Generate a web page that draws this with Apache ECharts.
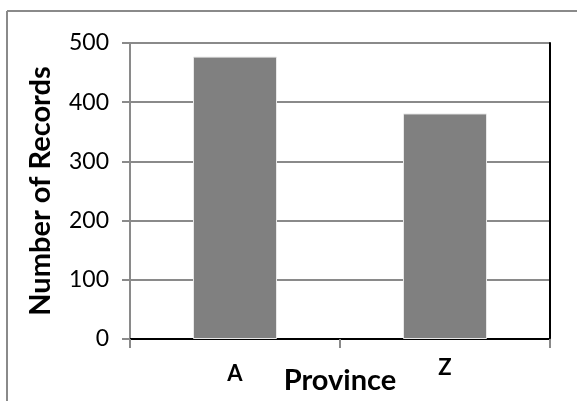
<!DOCTYPE html>
<html>
<head>
<meta charset="utf-8">
<script src="https://cdn.jsdelivr.net/npm/echarts@6/dist/echarts.min.js"></script>
<style>
  html, body { margin: 0; padding: 0; background: #fff; }
  #chart { width: 577px; height: 401px; }
</style>
</head>
<body>
<div id="chart"></div>
<script>
var provinces = ['A', 'Z'];
var records = [477, 381];
var yTicks = [0, 100, 200, 300, 400, 500];

var chart = echarts.init(document.getElementById('chart'));
var font = 'Lato';

var option = {
    animation: false,
    backgroundColor: '#fff',
    grid: { left: 130, right: 27, top: 43, bottom: 62, containLabel: false, outerBoundsMode: 'none' },
    graphic: [
        { type: 'line', shape: { x1: 7, y1: 11, x2: 577, y2: 11 }, style: { stroke: '#8a8a8a', lineWidth: 2 } },
        { type: 'line', shape: { x1: 7, y1: 11, x2: 7, y2: 401 }, style: { stroke: '#8a8a8a', lineWidth: 2 } }
    ],
    xAxis: [{
        type: 'category',
        data: provinces,
        position: 'bottom',
        name: 'Province',
        nameLocation: 'middle',
        nameGap: 27,
        nameMoveOverlap: false,
        nameTextStyle: { fontFamily: font, fontWeight: 'bold', fontSize: 29, color: '#000' },
        axisLine: { lineStyle: { color: '#8a8a8a', width: 2 } },
        axisTick: { show: true, length: 9, lineStyle: { color: '#8a8a8a', width: 2 } },
        axisLabel: {
            margin: 18,
            formatter: function (v) { return v === 'A' ? '{a|' + v + '}' : '{z|' + v + '}'; },
            rich: {
                a: { fontFamily: font, fontWeight: 'bold', fontSize: 22, color: '#000', padding: [6, 0, 0, 0] },
                z: { fontFamily: font, fontWeight: 'bold', fontSize: 22, color: '#000' }
            }
        }
    }, {
        type: 'category',
        data: provinces,
        position: 'top',
        axisLine: { lineStyle: { color: '#000', width: 2 } },
        axisTick: { show: false },
        axisLabel: { show: false }
    }],
    yAxis: [{
        type: 'value',
        min: 0,
        max: 500,
        interval: 100,
        name: 'Number of Records',
        nameLocation: 'middle',
        nameGap: 75,
        nameMoveOverlap: false,
        nameTextStyle: { fontFamily: font, fontWeight: 'bold', fontSize: 29, color: '#000' },
        axisLine: { show: true, lineStyle: { color: '#8a8a8a', width: 2 } },
        axisTick: { show: true, length: 8, lineStyle: { color: '#8a8a8a', width: 2 } },
        axisLabel: {
            margin: 21,
            fontFamily: font,
            fontSize: 23,
            color: '#000',
            formatter: function (v) { return yTicks.indexOf(v) >= 0 ? String(v) : ''; }
        },
        splitLine: { show: true, lineStyle: { color: '#8a8a8a', width: 2 } }
    }, {
        type: 'value',
        min: 0,
        max: 500,
        interval: 100,
        position: 'right',
        axisLine: { show: true, lineStyle: { color: '#000', width: 2 } },
        axisTick: { show: false },
        axisLabel: { show: false },
        splitLine: { show: false }
    }],
    series: [{
        type: 'bar',
        data: records,
        barWidth: '40%',
        itemStyle: { color: '#808080', borderColor: '#e8e8e8', borderWidth: 1 }
    }]
};

chart.setOption(option);
</script>
</body>
</html>
